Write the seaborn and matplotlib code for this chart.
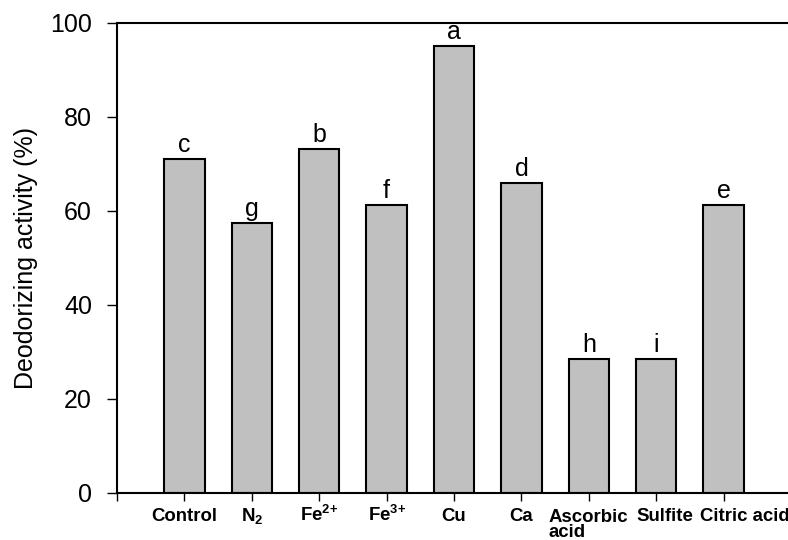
import matplotlib
matplotlib.use("Agg")
import matplotlib.pyplot as plt
import matplotlib.transforms as mtrans
import seaborn as sns
import pandas as pd

categories = ["Control", "N2", "Fe2+", "Fe3+", "Cu", "Ca", "Ascorbic acid", "Sulfite", "Citric acid"]
tick_labels = ["Control", r"$\mathbf{N_2}$", r"$\mathbf{Fe^{2{+}}}$", r"$\mathbf{Fe^{3{+}}}$", "Cu", "Ca",
               "Ascorbic\nacid", "Sulfite", "Citric acid"]
values = [71.1, 57.4, 73.2, 61.2, 95.2, 65.9, 28.6, 28.5, 61.3]
letters = ["c", "g", "b", "f", "a", "d", "h", "i", "e"]
yticks = [0, 20, 40, 60, 80, 100]

sns.set_style("white")
plt.rcParams["font.family"] = ["Liberation Sans", "DejaVu Sans"]
plt.rcParams["text.color"] = "black"
plt.rcParams["axes.labelcolor"] = "black"
plt.rcParams["xtick.color"] = "black"
plt.rcParams["ytick.color"] = "black"
plt.rcParams["mathtext.fontset"] = "custom"
plt.rcParams["mathtext.rm"] = "Liberation Sans"
plt.rcParams["mathtext.bf"] = "Liberation Sans:bold"
plt.rcParams["mathtext.it"] = "Liberation Sans:italic"

df = pd.DataFrame({"cat": categories, "val": values})

fig = plt.figure(figsize=(7.88, 5.40), dpi=100)
ax = fig.add_axes([117 / 788, 47 / 540, 674 / 788, 470 / 540])
sns.barplot(data=df, x="cat", y="val", order=categories, color="#C0C0C0",
            saturation=1, width=0.6, edgecolor="black", linewidth=1.5, ax=ax)

ax.set_xlim(-1, 9)
ax.set_ylim(0, 100)
ax.set_yticks(yticks)
ax.set_yticklabels([str(v) for v in yticks], fontsize=18)
ax.set_xticks(range(-1, 9))
ax.set_xticklabels([""] + tick_labels, fontsize=13.4, fontweight="bold")
for lab in ax.get_xticklabels():
    lab.set_va("baseline")
    lab.set_multialignment("left")
    lab.set_linespacing(0.85)
ax.set_xlabel("")
ax.set_ylabel("Deodorizing activity (%)", fontsize=18, labelpad=9)

ax.tick_params(axis="x", direction="out", length=6, width=1, pad=14.5, bottom=True)
ax.tick_params(axis="y", direction="out", length=7, width=1, pad=11, left=True)

for s in ["left", "bottom", "top"]:
    ax.spines[s].set_visible(True)
    ax.spines[s].set_color("black")
    ax.spines[s].set_linewidth(1.5)
ax.spines["right"].set_visible(False)

# shift some tick labels to mimic reference placement (dx, dy in inches)
labs = ax.get_xticklabels()
shifts = {7: (0.0, -0.16), 8: (0.09, 0.0), 9: (0.21, 0.0)}
for idx, (dx, dy) in shifts.items():
    lab = labs[idx]
    lab.set_transform(lab.get_transform() + mtrans.ScaledTranslation(dx, dy, fig.dpi_scale_trans))

for i, (v, l) in enumerate(zip(values, letters)):
    ax.annotate(l, xy=(i, v), xytext=(0, 5), textcoords="offset points",
                ha="center", va="baseline", fontsize=18, color="black")

fig.savefig("out.png", dpi=100)
